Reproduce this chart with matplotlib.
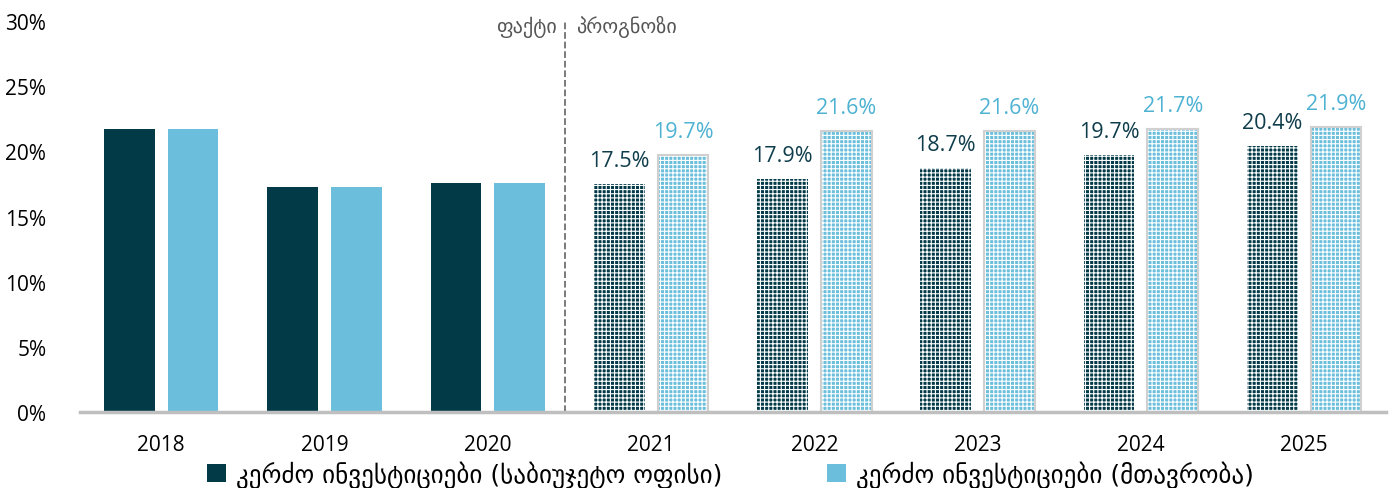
import numpy as np
import matplotlib
matplotlib.use('Agg')
import matplotlib.pyplot as plt
from matplotlib.patches import Patch

# Data
years = ['2018', '2019', '2020', '2021', '2022', '2023', '2024', '2025']
budget_office = [21.7, 17.3, 17.6, 17.5, 17.9, 18.7, 19.7, 20.4]
government = [21.7, 17.3, 17.6, 19.7, 21.6, 21.6, 21.7, 21.9]
n_actual = 3

series1_name = 'კერძო ინვესტიციები (საბიუჯეტო ოფისი)'
series2_name = 'კერძო ინვესტიციები (მთავრობა)'
fact_label = 'ფაქტი'
forecast_label = 'პროგნოზი'

dark = '#033a48'
light = '#6cbfdc'
dark_txt = '#0f3d4c'
light_txt = '#4eb2d3'

plt.rcParams['font.family'] = ['Open Sans', 'DejaVu Sans']
plt.rcParams['hatch.linewidth'] = 0.8

fig = plt.figure(figsize=(13.97, 4.89), dpi=100)
ax = fig.add_axes([0.057, 0.155, 0.935, 0.8])

x = np.arange(len(years))
w = 0.31
off = 0.195

for i in range(len(years)):
    if i < n_actual:
        ax.bar(x[i] - off, budget_office[i], w, color=dark, linewidth=0)
        ax.bar(x[i] + off, government[i], w, color=light, linewidth=0)
    else:
        ax.bar(x[i] - off, budget_office[i], w, color=dark, edgecolor='white',
               hatch='++++', linewidth=0)
        ax.bar(x[i] + off, government[i], w, color=light, edgecolor='white',
               hatch='++++', linewidth=0)
        ax.bar(x[i] + off, government[i], w, fill=False, edgecolor='#d0d0d0',
               linewidth=1.5)
        ax.text(x[i] - off, budget_office[i] + 1.0, f'{budget_office[i]:.1f}%',
                ha='center', va='bottom', fontsize=15.5, color=dark_txt)
        ax.text(x[i] + off, government[i] + 1.0, f'{government[i]:.1f}%',
                ha='center', va='bottom', fontsize=15.5, color=light_txt)

ax.set_xlim(-0.5, len(years) - 0.5)
ax.set_ylim(0, 30)
ax.set_yticks(np.arange(0, 31, 5))
ax.set_yticklabels([f'{v}%' for v in range(0, 31, 5)], fontsize=15)
ax.set_xticks(x)
ax.set_xticklabels(years, fontsize=15)
ax.tick_params(axis='x', length=0, pad=16)
ax.tick_params(axis='y', length=0, pad=24)
for s in ['top', 'right', 'left']:
    ax.spines[s].set_visible(False)
ax.spines['bottom'].set_color('#bfbfbf')
ax.spines['bottom'].set_linewidth(2.5)

# fact / forecast divider
xd = n_actual - 0.5 - 0.03
ax.plot([xd, xd], [0, 30], ls='--', color='#707070', lw=1.3, clip_on=False)
ax.text(xd - 0.05, 29.6, fact_label, ha='right', va='center', fontsize=14.5,
        color='#555555', family=['DejaVu Sans'])
ax.text(xd + 0.07, 29.6, forecast_label, ha='left', va='center', fontsize=14.5,
        color='#555555', family=['DejaVu Sans'])

handles = [Patch(facecolor=dark, label=series1_name),
           Patch(facecolor=light, label=series2_name)]
leg = fig.legend(handles=handles, loc='lower center', ncol=2, frameon=False,
                 bbox_to_anchor=(0.523, -0.045), handlelength=0.75,
                 handleheight=0.75, handletextpad=0.4, columnspacing=4.2,
                 prop={'family': ['DejaVu Sans'], 'size': 18})

fig.savefig('out.png', dpi=100)
